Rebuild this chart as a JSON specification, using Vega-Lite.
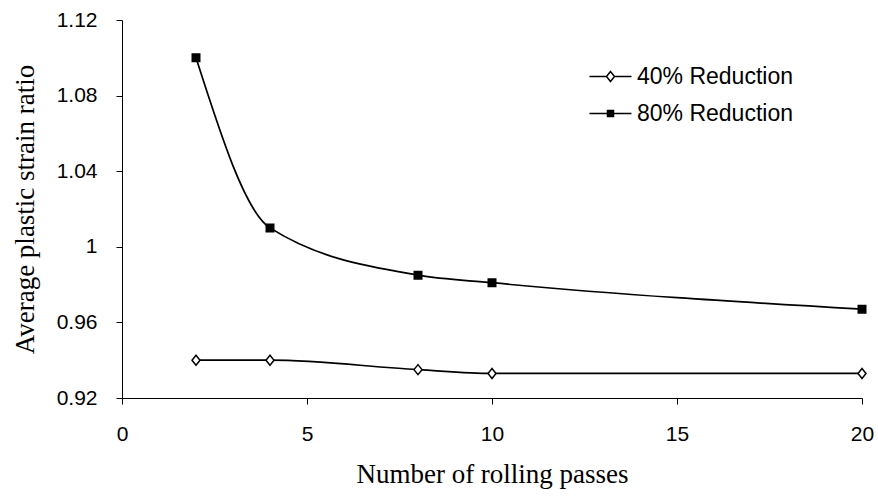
{
  "$schema": "https://vega.github.io/schema/vega-lite/v6.json",
  "autosize": {"type": "none"},
  "padding": {"left": 122, "top": 20, "right": 16, "bottom": 101},
  "width": 740,
  "height": 378,
  "background": "white",
  "config": {
    "view": {"stroke": null},
    "axis": {
      "grid": false,
      "domainColor": "black",
      "domainWidth": 1,
      "tickColor": "black",
      "tickSize": 6,
      "labelColor": "black",
      "labelFont": "Liberation Sans",
      "labelFontSize": 21,
      "titleColor": "black",
      "titleFont": "Liberation Serif",
      "titleFontSize": 27,
      "titleFontWeight": "normal"
    }
  },
  "data": {
    "values": [
      {"passes": 2, "r": 0.940, "series": "40% Reduction"},
      {"passes": 4, "r": 0.940, "series": "40% Reduction"},
      {"passes": 8, "r": 0.935, "series": "40% Reduction"},
      {"passes": 10, "r": 0.933, "series": "40% Reduction"},
      {"passes": 20, "r": 0.933, "series": "40% Reduction"},
      {"passes": 2, "r": 1.100, "series": "80% Reduction"},
      {"passes": 4, "r": 1.010, "series": "80% Reduction"},
      {"passes": 8, "r": 0.985, "series": "80% Reduction"},
      {"passes": 10, "r": 0.981, "series": "80% Reduction"},
      {"passes": 20, "r": 0.967, "series": "80% Reduction"}
    ]
  },
  "encoding": {
    "x": {
      "field": "passes",
      "type": "quantitative",
      "scale": {"domain": [0, 20], "nice": false},
      "axis": {"values": [0, 5, 10, 15, 20], "title": "Number of rolling passes", "labelPadding": 19, "titlePadding": 17, "labelFlush": false}
    },
    "y": {
      "field": "r",
      "type": "quantitative",
      "scale": {"domain": [0.92, 1.12], "nice": false, "zero": false},
      "axis": {"values": [0.92, 0.96, 1, 1.04, 1.08, 1.12], "format": "~g", "title": "Average plastic strain ratio", "labelPadding": 19, "titlePadding": 17, "labelFlush": false}
    }
  },
  "resolve": {"scale": {"shape": "independent"}, "legend": {"shape": "independent"}},
  "layer": [
    {
      "mark": {"type": "line", "interpolate": "monotone", "color": "black", "strokeWidth": 1.7},
      "encoding": {
        "detail": {"field": "series"}
      }
    },
    {
      "mark": {"type": "point", "filled": true, "stroke": "black", "strokeWidth": 1.5, "size": 100, "opacity": 1},
      "encoding": {
        "shape": {
          "field": "series",
          "type": "nominal",
          "scale": {"domain": ["40% Reduction", "80% Reduction"], "range": ["M0,-1L0.8,0L0,1L-0.8,0Z", "M-0.75,-0.75H0.75V0.75H-0.75Z"]},
          "legend": null
        },
        "fill": {
          "field": "series",
          "type": "nominal",
          "scale": {"domain": ["40% Reduction", "80% Reduction"], "range": ["white", "black"]},
          "legend": null
        }
      }
    },
    {
      "mark": {"type": "point", "filled": false, "stroke": "black", "strokeWidth": 1.5, "size": 100, "opacity": 0},
      "encoding": {
        "shape": {
          "field": "series",
          "type": "nominal",
          "scale": {"domain": ["40% Reduction", "80% Reduction"], "range": ["M-2.1,0H-0.4M0.4,0H2.1M0,-0.5L0.4,0L0,0.5L-0.4,0Z", "M-2.1,0H2.1M-0.3,-0.3H0.3V0.3H-0.3ZM-0.3,-0.15H0.3M-0.3,0.15H0.3"]},
          "legend": {
            "title": null,
            "orient": "none",
            "legendX": 477,
            "legendY": 45,
            "padding": 0,
            "labelFont": "Liberation Sans",
            "labelFontSize": 23,
            "labelColor": "black",
            "labelOffset": 15,
            "rowPadding": 13,
            "symbolSize": 400,
            "symbolOpacity": 1,
            "symbolStrokeWidth": 1.5,
            "encode": {
              "symbols": {
                "update": {
                  "stroke": {"value": "black"},
                  "strokeWidth": {"value": 1.5},
                  "opacity": {"value": 1}
                }
              }
            }
          }
        }
      }
    }
  ]
}
